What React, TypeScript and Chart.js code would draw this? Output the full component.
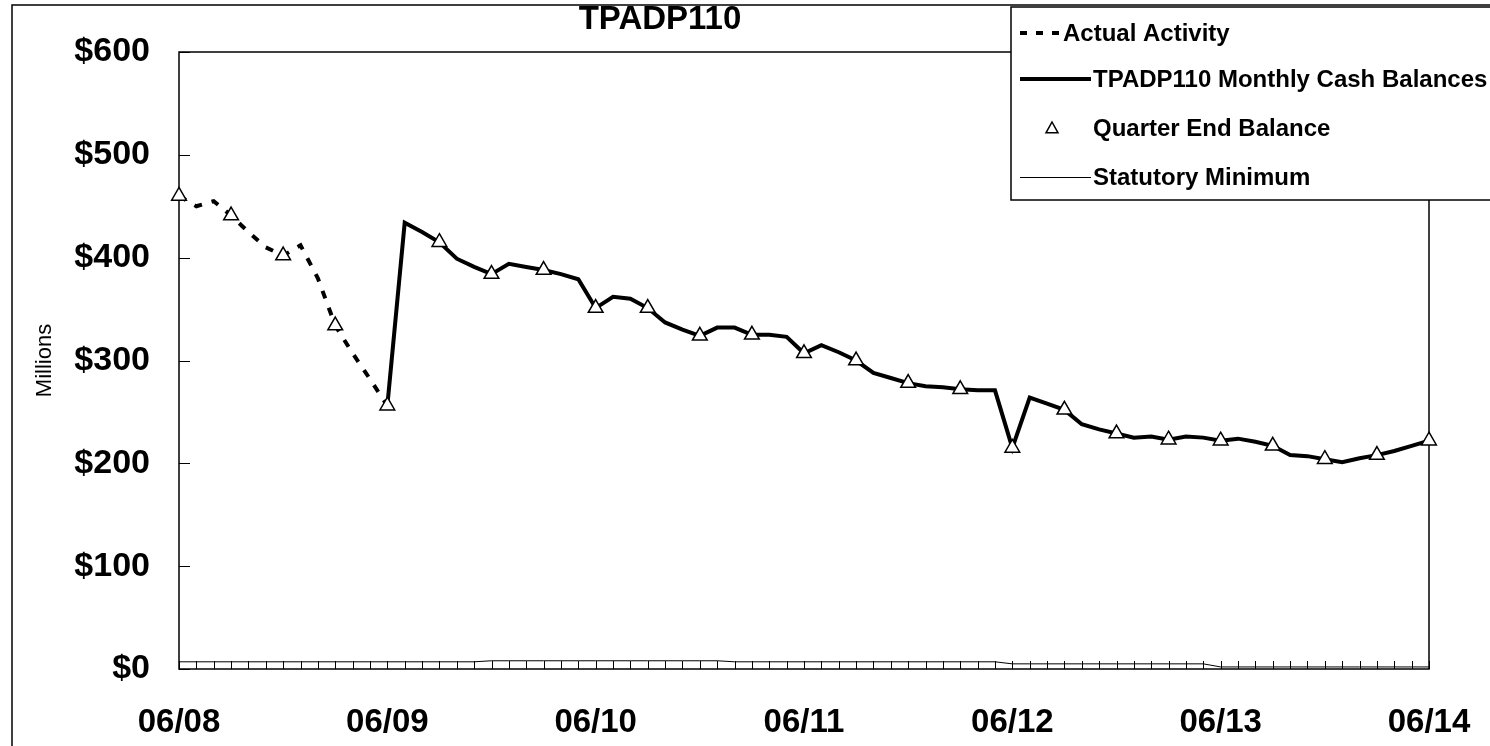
import React, { useEffect, useRef } from 'react';
import { Chart, registerables } from 'chart.js';

Chart.register(...registerables);

const chartTitle = 'TPADP110';
const yAxisTitle = 'Millions';
const tickLabels = ['06/08', '06/09', '06/10', '06/11', '06/12', '06/13', '06/14'];

// month index 0 = 06/08 ... 72 = 06/14
const actualStart = 0;
const actualActivity = [460, 450, 455, 441, 425, 410, 402, 412, 380, 334, 307, 282, 256];

const cashStart = 12;
const monthlyCash = [
  256, 434, 425, 415, 399, 391, 384, 394, 391, 388, 384, 379,
  351, 362, 360, 351, 337, 330, 324, 332, 332, 325, 325, 323,
  307, 315, 308, 300, 288, 283, 278, 275, 274, 272, 271, 271,
  215, 264, 258, 252, 238, 233, 229, 225, 226, 223, 226, 225,
  222, 224, 221, 217, 208, 207, 204, 201, 205, 208, 212, 217,
  222,
];

const quarterStep = 3;
const quarterEnd = [
  460, 441, 402, 334, 256, 415, 384, 388, 351, 351, 324, 325, 307,
  300, 278, 272, 215, 252, 229, 223, 222, 217, 204, 208, 222,
];

const statutoryMinimum = [
  7, 7, 7, 7, 7, 7, 7, 7, 7, 7, 7, 7,
  7, 7, 7, 7, 7, 7, 8, 8, 8, 8, 8, 8,
  8, 8, 8, 8, 8, 8, 8, 8, 7, 7, 7, 7,
  7, 7, 7, 7, 7, 7, 7, 7, 7, 7, 7, 7,
  5, 5, 5, 5, 5, 5, 5, 5, 5, 5, 5, 5,
  2, 2, 2, 2, 2, 2, 2, 2, 2, 2, 2, 2,
  2,
];

const FONT = 'Arial, "Liberation Sans", sans-serif';

const decorPlugin = {
  id: 'decor',
  beforeDatasetsDraw(chart: any) {
    const { ctx, chartArea, scales } = chart;
    const { left, right, top, bottom } = chartArea;
    const x = scales.x;
    const y = scales.y;
    ctx.save();
    ctx.strokeStyle = '#000';
    ctx.lineWidth = 1.5;
    ctx.strokeRect(left, top, right - left, bottom - top);
    ctx.lineWidth = 1;
    ctx.beginPath();
    for (let m = 0; m < statutoryMinimum.length; m++) {
      const px = Math.round(x.getPixelForValue(m)) + 0.5;
      ctx.moveTo(px, bottom);
      ctx.lineTo(px, bottom - 8);
    }
    y.ticks.forEach((t: any) => {
      const py = Math.round(y.getPixelForValue(t.value)) + 0.5;
      ctx.moveTo(left, py);
      ctx.lineTo(left + 11, py);
    });
    ctx.stroke();
    ctx.restore();
  },
  afterDraw(chart: any) {
    const { ctx } = chart;
    const ds = chart.data.datasets;
    ctx.save();
    // outer frame
    ctx.strokeStyle = '#000';
    ctx.lineWidth = 1.5;
    ctx.strokeRect(12, 5, 1500, 760);
    // title
    ctx.fillStyle = '#000';
    ctx.font = `bold 33px ${FONT}`;
    ctx.textAlign = 'center';
    ctx.textBaseline = 'middle';
    ctx.fillText(chartTitle, 660, 20);
    // legend box
    const bx = 1011, by = 7, bw = 500, bh = 193;
    ctx.fillStyle = '#fff';
    ctx.fillRect(bx, by, bw, bh);
    ctx.lineWidth = 1.5;
    ctx.strokeRect(bx, by, bw, bh);
    const rows = [33, 79, 128, 177];
    const sx0 = 1020, sx1 = 1091;
    ctx.strokeStyle = '#000';
    // row 0: dashed
    ctx.lineWidth = 4;
    ctx.setLineDash([7, 9]);
    ctx.beginPath();
    ctx.moveTo(sx0, rows[0]);
    ctx.lineTo(1059, rows[0]);
    ctx.stroke();
    ctx.setLineDash([]);
    // row 1: solid thick
    ctx.beginPath();
    ctx.moveTo(sx0, rows[1]);
    ctx.lineTo(sx1, rows[1]);
    ctx.stroke();
    // row 2: triangle
    ctx.lineWidth = 1.5;
    ctx.beginPath();
    const tx = 1052, ty = rows[2], r = 6;
    ctx.moveTo(tx, ty - r);
    ctx.lineTo(tx + r, ty + r * 0.8);
    ctx.lineTo(tx - r, ty + r * 0.8);
    ctx.closePath();
    ctx.fillStyle = '#fff';
    ctx.fill();
    ctx.stroke();
    // row 3: thin
    ctx.lineWidth = 1;
    ctx.beginPath();
    ctx.moveTo(sx0, rows[3] + 0.5);
    ctx.lineTo(sx1, rows[3] + 0.5);
    ctx.stroke();
    // texts
    ctx.fillStyle = '#000';
    ctx.font = `bold 24px ${FONT}`;
    ctx.textAlign = 'left';
    ctx.textBaseline = 'middle';
    const textX = [1063, 1093, 1093, 1093];
    for (let k = 0; k < 4; k++) {
      ctx.fillText(ds[k].label, textX[k], rows[k] + 1);
    }
    ctx.restore();
  },
};

export default function App() {
  const ref = useRef<HTMLCanvasElement | null>(null);

  useEffect(() => {
    const canvas = ref.current;
    if (!canvas) return;
    Chart.defaults.font.family = FONT;
    Chart.defaults.color = '#000';

    const actualData = actualActivity.map((v, i) => ({ x: actualStart + i, y: v }));
    const cashData = monthlyCash.map((v, i) => ({ x: cashStart + i, y: v }));
    const quarterData = quarterEnd.map((v, i) => ({ x: i * quarterStep, y: v }));
    const statData = statutoryMinimum.map((v, i) => ({ x: i, y: v }));

    const chart = new Chart(canvas, {
      type: 'line',
      data: {
        datasets: [
          {
            label: 'Actual Activity',
            data: actualData,
            borderColor: '#000',
            borderWidth: 4,
            borderDash: [8, 10],
            pointRadius: 0,
            tension: 0,
            order: 2,
          },
          {
            label: 'TPADP110 Monthly Cash Balances',
            data: cashData,
            borderColor: '#000',
            borderWidth: 4,
            pointRadius: 0,
            tension: 0,
            order: 2,
          },
          {
            label: 'Quarter End Balance',
            data: quarterData,
            showLine: false,
            pointStyle: 'triangle',
            pointRadius: 8.5,
            pointBackgroundColor: '#fff',
            pointBorderColor: '#000',
            pointBorderWidth: 1.5,
            order: 0,
            clip: 12,
          },
          {
            label: 'Statutory Minimum',
            data: statData,
            borderColor: '#000',
            borderWidth: 1,
            pointRadius: 0,
            tension: 0,
            order: 3,
          },
        ],
      } as any,
      options: {
        animation: false,
        responsive: false,
        maintainAspectRatio: false,
        events: [],
        layout: { padding: { left: 12, top: 52, right: 61, bottom: 0 } },
        plugins: {
          legend: { display: false },
          title: { display: false },
          tooltip: { enabled: false },
        },
        scales: {
          x: {
            type: 'linear',
            min: 0,
            max: 72,
            grid: { display: false, drawTicks: false },
            border: { display: false },
            ticks: {
              stepSize: 12,
              autoSkip: false,
              maxRotation: 0,
              padding: 34,
              color: '#000',
              font: { size: 33, weight: 'bold' },
              callback: (v: any) => tickLabels[Math.round(Number(v) / 12)] ?? '',
            },
            afterFit: (s: any) => {
              s.height = 77;
              s.paddingLeft = 0;
              s.paddingRight = 0;
            },
          },
          y: {
            min: 0,
            max: 600,
            grid: { display: false, drawTicks: false },
            border: { display: false },
            ticks: {
              stepSize: 100,
              padding: 29,
              color: '#000',
              font: { size: 34, weight: 'bold' },
              callback: (v: any) => '$' + v,
            },
            title: {
              display: true,
              text: yAxisTitle,
              color: '#000',
              font: { size: 22, weight: 'normal' },
              padding: { top: 20, bottom: 0 },
            },
            afterFit: (s: any) => {
              s.width = 167;
              s.paddingTop = 0;
              s.paddingBottom = 0;
            },
          },
        },
      } as any,
      plugins: [decorPlugin],
    });

    return () => chart.destroy();
  }, []);

  return (
    <div style={{ position: 'absolute', left: 0, top: 0, width: 1490, height: 746, background: '#fff', overflow: 'hidden' }}>
      <canvas ref={ref} width={1490} height={746} style={{ width: 1490, height: 746, display: 'block' }} />
    </div>
  );
}
